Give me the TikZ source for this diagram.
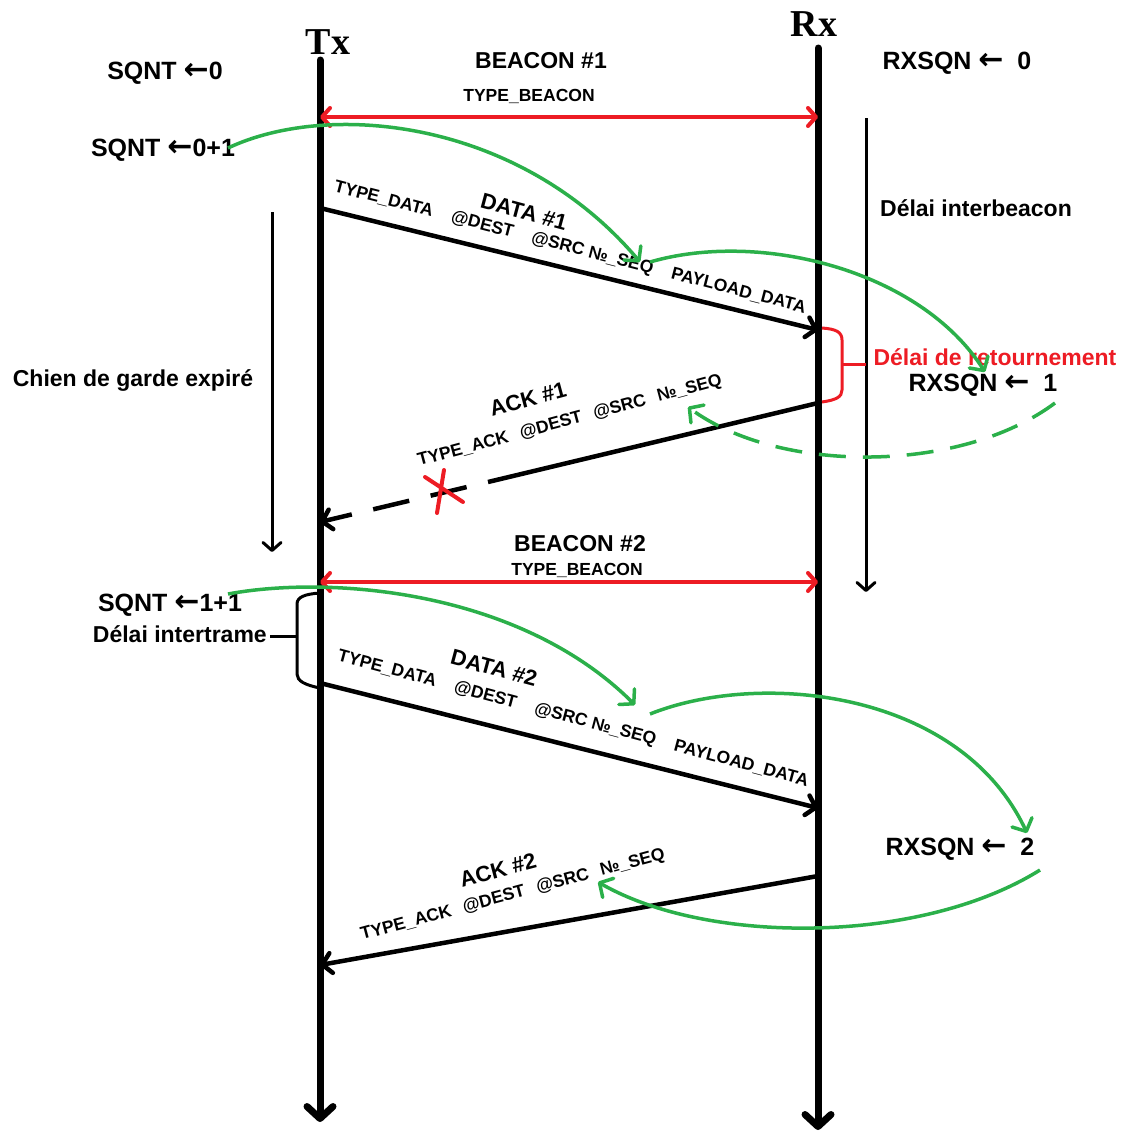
\documentclass[tikz,border=0pt]{standalone}
\usepackage{fontspec}
\setmainfont{Liberation Sans}
\newfontfamily\serifbold{Liberation Serif}
\newfontfamily\arrowfont{DejaVu Sans}
\usetikzlibrary{arrows.meta}
\definecolor{bred}{RGB}{237,28,36}
\definecolor{sgreen}{RGB}{43,176,74}
\newcommand{\la}{{\arrowfont\fontsize{30}{30}\selectfont ←}}
\newcommand{\fgap}{\hspace{0.7em}}
\newcommand{\dgap}{\hspace{1.1em}}

\begin{document}
\begin{tikzpicture}[x=1pt,y=-1pt,
  life/.style={line width=7pt,line cap=round,-{Straight Barb[length=12pt,width=26pt,round]}},
  msg/.style={line width=4.5pt,-{Straight Barb[length=9pt,width=20pt,round]}},
  beacon/.style={draw=bred,line width=4pt,{Straight Barb[length=8pt,width=18pt,round]}-{Straight Barb[length=8pt,width=18pt,round]}},
  seq/.style={draw=sgreen,line width=3.5pt,-{Straight Barb[length=10pt,width=22pt,round]}},
  timer/.style={line width=3pt,-{Straight Barb[length=8pt,width=18pt,round]}},
  var/.style={font=\bfseries\fontsize{25}{28}\selectfont,inner sep=0pt},
  big/.style={font=\bfseries\fontsize{23}{26}\selectfont,inner sep=0pt},
  fld/.style={font=\bfseries\fontsize{17.5}{20}\selectfont,inner sep=0pt},
  ttl/.style={font=\bfseries\fontsize{22}{24}\selectfont,inner sep=0pt}]
  \useasboundingbox (0,0) rectangle (1126,1135);
  % lifelines
  \coordinate (txtop) at (320,60); \coordinate (txbot) at (320,1122);
  \coordinate (rxtop) at (818,48); \coordinate (rxbot) at (818,1130);
  \draw[life] (txtop) -- (txbot); \draw[life] (rxtop) -- (rxbot);
  \node[font=\serifbold\bfseries\fontsize{38}{40}\selectfont] (txlbl) at (328,42) {Tx};
  \node[font=\serifbold\bfseries\fontsize{38}{40}\selectfont] (rxlbl) at (814,24) {Rx};
  % variables
  \node[var] (sqnt0) at (165,73) {SQNT \la0};
  \node[var] (sqnt1) at (163,150) {SQNT \la0+1};
  \node[var] (sqnt2) at (170,605) {SQNT \la1+1};
  \node[var] (rxsqn0) at (957,63) {RXSQN \la\ \ 0};
  \node[var] (rxsqn1) at (983,385) {RXSQN \la\ \ 1};
  \node[var] (rxsqn2) at (960,849) {RXSQN \la\ \ 2};
  % timers
  \coordinate (wdtop) at (272,212); \coordinate (wdbot) at (272,552);
  \draw[timer] (wdtop) -- (wdbot);
  \node[big] (wdlbl) at (133,380) {Chien de garde expiré};
  \coordinate (ibtop) at (866,118); \coordinate (ibbot) at (866,592);
  \draw[timer] (ibtop) -- (ibbot);
  \node[big] (iblbl) at (976,208) {Délai interbeacon};
  % beacons
  \coordinate (b1tx) at (320,117); \coordinate (b1rx) at (818,117);
  \draw[beacon] (b1tx) -- (b1rx);
  \node[big] (bc1) at (541,61) {BEACON \#1};
  \node[fld] (bt1) at (529,96) {TYPE\_BEACON};
  \coordinate (b2tx) at (320,582); \coordinate (b2rx) at (818,582);
  \draw[beacon] (b2tx) -- (b2rx);
  \node[big] (bc2) at (580,544) {BEACON \#2};
  \node[fld] (bt2) at (577,570) {TYPE\_BEACON};
  % frame 1
  \coordinate (d1tx) at (320,208); \coordinate (d1rx) at (818,330);
  \draw[msg] (d1tx) -- (d1rx);
  \node[fld,rotate=-14.5] (d1f) at (570,248) {TYPE\_DATA\dgap@DEST\dgap@SRC №\_SEQ\dgap PAYLOAD\_DATA};
  \node[ttl,rotate=-15] (d1t) at (524,212) {DATA \#1};
  \coordinate (a1rx) at (818,403); \coordinate (a1cut) at (488,482); \coordinate (a1tx) at (320,522);
  \draw[line width=4.5pt] (a1rx) -- (a1cut);
  \draw[msg,dash pattern=on 37pt off 22pt,dash phase=37pt] (a1cut) -- (a1tx);
  \node[fld,rotate=15] (a1f) at (570,421) {TYPE\_ACK\fgap@DEST\fgap@SRC\fgap №\_SEQ};
  \node[ttl,rotate=15] (a1t) at (528,399) {ACK \#1};
  \coordinate (lost) at (443,490);
  \draw[bred,line width=4pt,line cap=round] ([shift={(-18,-13)}]lost) -- ([shift={(20,12)}]lost)
    ([shift={(1,-20)}]lost) -- ([shift={(-6,23)}]lost);
  \draw[bred,line width=3pt] (822,328) .. controls (836,329) and (842,332) .. (842,340) -- (842,390)
    .. controls (842,397) and (836,400) .. (822,402);
  \coordinate (rtbr) at (842,364); \coordinate (rtib) at (866,364);
  \draw[bred,line width=3pt] (rtbr) -- (rtib);
  \node[big,text=bred] (rtlbl) at (995,357) {Délai de retournement};
  % frame 2
  \draw[line width=3pt] (320,593) .. controls (305,594) and (297,597) .. (297,604) -- (297,674)
    .. controls (297,681) and (305,685) .. (320,688);
  \coordinate (itbr) at (297,636); \coordinate (itlb) at (270,636);
  \draw[line width=3pt] (itbr) -- (itlb);
  \node[big,anchor=east] (itlbl) at (267,634) {Délai intertrame};
  \coordinate (d2tx) at (320,683); \coordinate (d2rx) at (818,808);
  \draw[msg] (d2tx) -- (d2rx);
  \node[fld,rotate=-15] (d2f) at (573,719) {TYPE\_DATA\dgap@DEST\dgap@SRC №\_SEQ\dgap PAYLOAD\_DATA};
  \node[ttl,rotate=-15] (d2t) at (494,668) {DATA \#2};
  \coordinate (a2rx) at (818,876); \coordinate (a2tx) at (320,965);
  \draw[msg] (a2rx) -- (a2tx);
  \node[fld,rotate=15] (a2f) at (513,895) {TYPE\_ACK\fgap@DEST\fgap@SRC\fgap №\_SEQ};
  \node[ttl,rotate=15] (a2t) at (498,870) {ACK \#2};
  % sequence numbers
  \coordinate (g1s) at (228,148); \coordinate (g1e) at (640,262);
  \draw[seq] (g1s) .. controls (330,100) and (520,120) .. (g1e);
  \coordinate (g2s) at (650,262); \coordinate (g2e) at (985,372);
  \draw[seq] (g2s) .. controls (760,230) and (920,270) .. (g2e);
  \coordinate (g3s) at (1055,403); \coordinate (g3e) at (688,407);
  \draw[seq,dash pattern=on 27pt off 17pt] (g3s) .. controls (960,474) and (779,474) .. (g3e);
  \coordinate (g4s) at (228,594); \coordinate (g4e) at (635,705);
  \draw[seq] (g4s) .. controls (330,575) and (520,590) .. (g4e);
  \coordinate (g5s) at (650,714); \coordinate (g5e) at (1027,833);
  \draw[seq] (g5s) .. controls (760,670) and (960,690) .. (g5e);
  \coordinate (g6s) at (1040,870); \coordinate (g6e) at (598,882);
  \draw[seq] (g6s) .. controls (920,945) and (707,945) .. (g6e);
\end{tikzpicture}
\end{document}
